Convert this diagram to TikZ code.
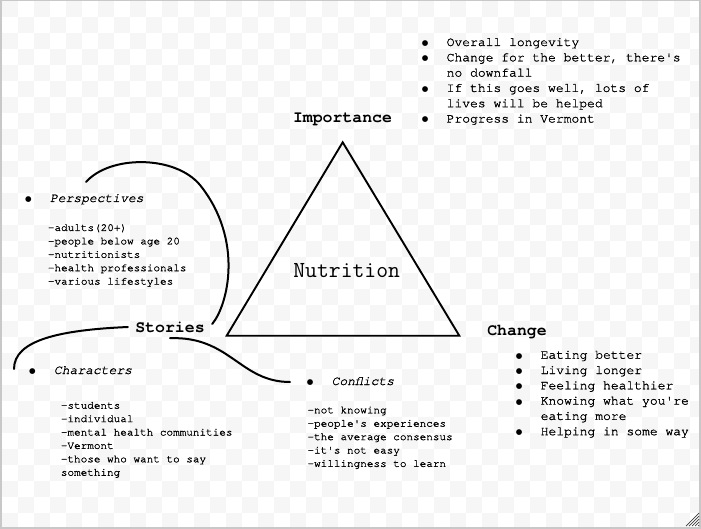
\documentclass[tikz,border=0pt]{standalone}
\usepackage{fontspec}
\newfontfamily\cour{texgyrecursor}[Extension=.otf, UprightFont=*-regular, BoldFont=*-bold, ItalicFont=*-italic, BoldItalicFont=*-bolditalic, UprightFeatures={FakeBold=1.2}, ItalicFeatures={FakeBold=1.2}]
\newfontfamily\dejavu{DejaVu Sans}
\usetikzlibrary{positioning}
\definecolor{checkColor}{RGB}{246,246,246}
\definecolor{frameColor}{RGB}{200,200,200}
\definecolor{gripColor}{RGB}{60,60,60}
\newcommand{\bul}{\makebox[21.5pt][l]{\makebox[0pt]{\raisebox{0.6pt}{\dejavu\fontsize{7.5}{8}\selectfont ●}}}}
\tikzset{heading/.style={font=\cour\bfseries\fontsize{16.5}{18}\selectfont, inner sep=0pt, anchor=base}}
\tikzset{itemlist/.style={font=\cour\fontsize{13}{15.3}\selectfont, inner sep=0pt, anchor=base west}}
\tikzset{sublist/.style={font=\cour\fontsize{11}{13.4}\selectfont, inner sep=0pt, anchor=base west}}
\tikzset{branch/.style={line width=2pt, line cap=round}}

\begin{document}
\begin{tikzpicture}[x=1pt, y=-1pt]
\pgfdeclarelayer{background}
\pgfsetlayers{background,main}
\useasboundingbox (0,0) rectangle (701,529);

% Nodes
\node (nutrition) [font=\ttfamily\fontsize{23}{25}\selectfont, inner sep=0pt, anchor=base] at (346.7,277.7) {Nutrition};
\coordinate (apex) at (342.7,142.3);
\coordinate (right) at (459.3,335.7);
\coordinate (left) at (226.7,335.7);

\node (importance) [heading] at (342.5,122.7) {Importance};
\node (change) [heading] at (517,335) {Change};
\node (stories) [heading, anchor=center, minimum width=84pt, minimum height=22pt] at (170,327) {Stories};

\node (imp-list) [itemlist] at (425,46) {\begin{tabular}[t]{@{}l@{}l@{}}
\bul & Overall longevity\\
\bul & Change for the better, there's\\
 & no downfall\\
\bul & If this goes well, lots of\\
 & lives will be helped\\
\bul & Progress in Vermont
\end{tabular}};

\node (change-list) [itemlist] at (519,358.7) {\begin{tabular}[t]{@{}l@{}l@{}}
\bul & Eating better\\
\bul & Living longer\\
\bul & Feeling healthier\\
\bul & Knowing what you're\\
 & eating more\\
\bul & Helping in some way
\end{tabular}};

\node (persp) [itemlist] at (28.3,202) {\bul\itshape Perspectives};
\node (persp-list) [sublist] at (47.7,231) {\begin{tabular}[t]{@{}l@{}}
-adults(20+)\\
-people below age 20\\
-nutritionists\\
-health professionals\\
-various lifestyles
\end{tabular}};

\node (charac) [itemlist] at (32.3,374) {\bul\itshape Characters};
\node (charac-list) [sublist] at (60.7,408.7) {\begin{tabular}[t]{@{}l@{}}
-students\\
-individual\\
-mental health communities\\
-Vermont\\
-those who want to say\\
something
\end{tabular}};

\node (confl) [itemlist] at (310,385) {\bul\itshape Conflicts};
\node (confl-list) [sublist] at (307.3,413.3) {\begin{tabular}[t]{@{}l@{}}
-not knowing\\
-people's experiences\\
-the average consensus\\
-it's not easy\\
-willingness to learn
\end{tabular}};

\coordinate (persp-turn) at (200,185);
\coordinate (persp-end) at (86,182);
\coordinate (charac-end) at (14,369);
\coordinate (confl-end) at (290,382);

% Connectors
\draw [line width=1.9pt, line join=miter] (apex) -- (right) -- (left) -- cycle;
\draw [branch] ([yshift=3pt]stories.east) .. controls (228,305) and (244,240) .. (persp-turn)
  .. controls (175,155) and (110,155) .. (persp-end);
\draw [branch] (stories.west) .. controls (60,330) and (14,340) .. (charac-end);
\draw [branch] (stories.south) .. controls (230,336) and (240,382) .. (confl-end);

% Frame
\begin{pgfonlayer}{background}
\begin{scope}
\clip (2,0.7) rectangle (700,527.5);
\foreach \i in {0,...,43}
  \foreach \j in {0,...,32}{
    \ifodd\numexpr\i+\j\relax\else
      \fill [checkColor] ({2+16*\i},{0.7+16*\j}) rectangle +(16,16);
    \fi}
\end{scope}
\draw [frameColor, line width=1.3pt] (1,0.5) rectangle (700,528);
\foreach \k in {0,...,4}
  \draw [gripColor, line width=0.7pt] ({686+3*\k},526) -- (699,{513+3*\k});
\end{pgfonlayer}

\end{tikzpicture}
\end{document}
